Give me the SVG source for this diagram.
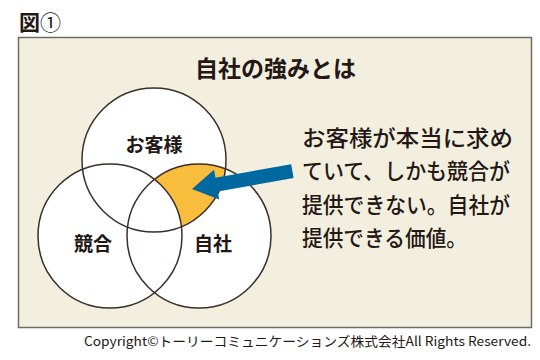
<svg xmlns="http://www.w3.org/2000/svg" width="540" height="360" viewBox="0 0 540 360">
<style>
.jp{font-family:"Noto Sans CJK JP","Noto Sans",sans-serif;fill:#231815}
.b{font-weight:bold}
.c{fill:#ffffff;stroke:none}
.cs{fill:none;stroke:#3a2f2b;stroke-width:1.5}
</style>
<rect width="540" height="360" fill="#ffffff"/>
<text class="jp b" x="19" y="30" font-size="21">図<tspan font-weight="normal">①</tspan></text>
<rect x="18.5" y="37.5" width="513" height="290" fill="#f3efdf" stroke="#6f6b66" stroke-width="1.5"/>
<text class="jp b" x="275.5" y="77" font-size="23" text-anchor="middle">自社の強みとは</text>
<g id="fills">
<circle class="c" cx="154" cy="160" r="72"/>
<circle class="c" cx="110" cy="236" r="72"/>
<circle class="c" cx="199" cy="236" r="72"/>
<path d="M225.4,169 A72,72 0 0 0 154.5,179.4 A72,72 0 0 1 181.4,226.6 A72,72 0 0 0 225.4,169 Z" fill="#f8bd3c"/>
</g>
<g id="customer">
<circle class="cs" cx="154" cy="160" r="72"/>
<text class="jp b" x="154" y="152" font-size="19" text-anchor="middle">お客様</text>
</g>
<g id="competitor">
<circle class="cs" cx="110" cy="236" r="72"/>
<text class="jp b" x="93" y="251" font-size="19" text-anchor="middle">競合</text>
</g>
<g id="self">
<circle class="cs" cx="199" cy="236" r="72"/>
<text class="jp b" x="213" y="251" font-size="19" text-anchor="middle">自社</text>
</g>
<g id="connectors">
<polygon points="192,189 219.2,199.4 217.8,191.5 293.6,178 291.2,164.2 215.4,177.7 214,169.8" fill="#0068a0"/>
</g>
<g id="description">
<text class="jp" font-size="22" font-weight="500">
<tspan x="302" y="145.5" textLength="211" lengthAdjust="spacingAndGlyphs">お客様が本当に求め</tspan>
<tspan x="302" y="179" textLength="208" lengthAdjust="spacingAndGlyphs">ていて、しかも競合が</tspan>
<tspan x="302" y="212.5" textLength="208" lengthAdjust="spacingAndGlyphs">提供できない。自社が</tspan>
<tspan x="302" y="246" textLength="165" lengthAdjust="spacingAndGlyphs">提供できる価値。</tspan>
</text>
</g>
<text class="jp" x="84" y="346" font-size="13" textLength="447" lengthAdjust="spacingAndGlyphs">Copyright©トーリーコミュニケーションズ株式会社All Rights Reserved.</text>
</svg>
